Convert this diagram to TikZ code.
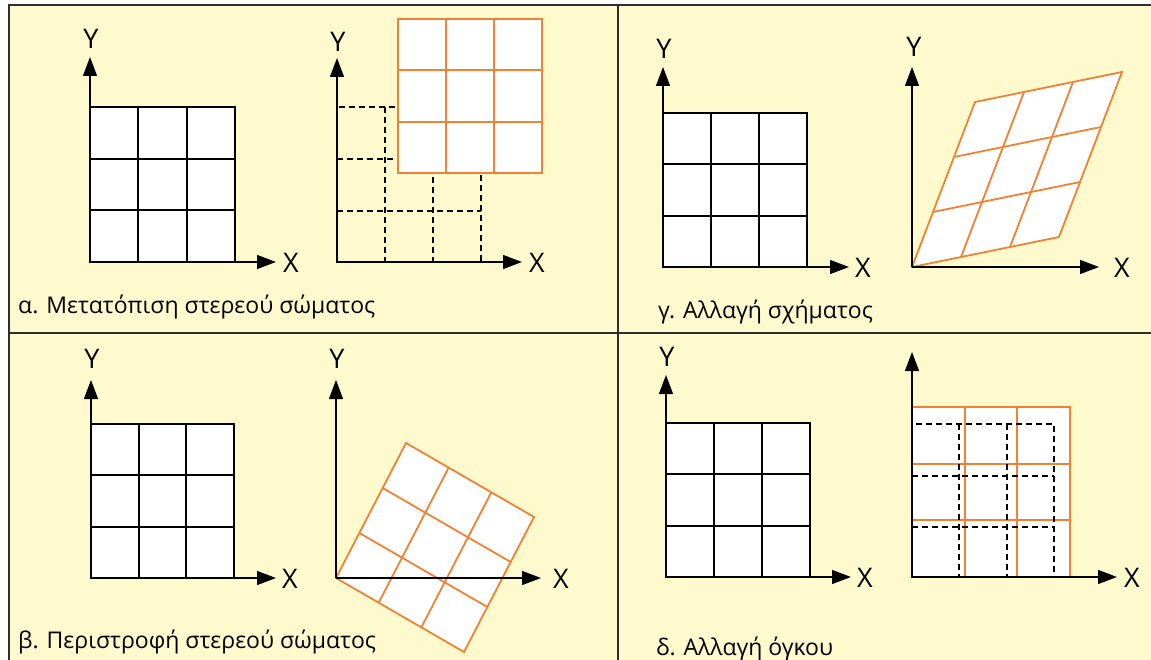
\documentclass[tikz,border=0pt]{standalone}
\usepackage{fontspec}
\setmainfont{Open Sans}
\usetikzlibrary{arrows.meta,calc}
\definecolor{bgy}{HTML}{FFFACD}
\definecolor{org}{HTML}{F08232}
\definecolor{frm}{HTML}{2E2E2E}
\newcommand\rectgrid[5]{% x0 y0 x1 y1 style
  \fill[white] (#1,#2) rectangle (#3,#4);
  \foreach \i in {1,2}{
    \draw[#5] ({#1+\i*(#3-#1)/3},#2) -- ({#1+\i*(#3-#1)/3},#4);
    \draw[#5] (#1,{#2+\i*(#4-#2)/3}) -- (#3,{#2+\i*(#4-#2)/3});
  }
  \draw[#5] (#1,#2) rectangle (#3,#4);
}
\newcommand\skewgrid[5]{% O A B C style  (O->A first edge, O->B second, C opposite)
  \fill[white] (#1) -- (#2) -- (#4) -- (#3) -- cycle;
  \foreach \i in {1,2}{
    \draw[#5] ($(#1)!\i/3!(#2)$) -- ($(#3)!\i/3!(#4)$);
    \draw[#5] ($(#1)!\i/3!(#3)$) -- ($(#2)!\i/3!(#4)$);
  }
  \draw[#5] (#1) -- (#2) -- (#4) -- (#3) -- cycle;
}
\begin{document}
\begin{tikzpicture}[x=1pt,y=-1pt,
  axis/.style={line width=1.3pt,-{Triangle[length=19pt,width=14pt]}},
  blk/.style={line width=1.8pt,black,line join=miter},
  orl/.style={line width=1.8pt,org,line join=miter},
  dsh/.style={line width=1.3pt,black,dash pattern=on 6pt off 4pt},
  axlab/.style={font=\fontsize{27}{30}\selectfont,inner sep=0pt},
  caption/.style={font=\fontsize{23}{27}\selectfont,anchor=base west,inner sep=0pt},
  frame/.style={line width=2.6pt,frm}]
\useasboundingbox (0,0) rectangle (1151,660);
\fill[white] (0,0) rectangle (1151,660);
\fill[bgy] (9,5) rectangle (1151,660);
% frame
\coordinate (fTL) at (9,5); \coordinate (fTR) at (1151,5); \coordinate (fBL) at (9,660);
\coordinate (vT) at (618,5); \coordinate (vB) at (618,660);
\coordinate (hL) at (9,333); \coordinate (hR) at (1151,333);
\draw[frame] (fBL) -- (fTL) -- (fTR);
\draw[frame] (vT) -- (vB);
\draw[frame] (hL) -- (hR);

% ================= panel alpha =================
\rectgrid{90}{107}{235}{262}{blk}
\coordinate (a1O) at (90,262); \coordinate (a1Y) at (90,57); \coordinate (a1X) at (276,262);
\draw[axis] (a1O) -- (a1Y); \draw[axis] (a1O) -- (a1X);
\node[axlab] (a1yl) at (91,39) {Y};
\node[axlab] (a1xl) at (291,263) {X};
% right
\draw[dsh] (337,107) rectangle (481,262);
\draw[dsh] (385,107) -- (385,262);
\draw[dsh] (433,107) -- (433,262);
\draw[dsh] (337,159) -- (481,159);
\draw[dsh] (337,211) -- (481,211);
\rectgrid{398}{19}{542}{173}{orl}
\coordinate (a2O) at (337,262); \coordinate (a2Y) at (337,58); \coordinate (a2X) at (522,262);
\draw[axis] (a2O) -- (a2Y); \draw[axis] (a2O) -- (a2X);
\node[axlab] (a2yl) at (338,42) {Y};
\node[axlab] (a2xl) at (537,263) {X};
\node[caption] (capa) at (18,313) {α. Μετατόπιση στερεού σώματος};

% ================= panel gamma =================
\rectgrid{663}{113}{807}{267}{blk}
\coordinate (g1O) at (663,267); \coordinate (g1Y) at (663,67); \coordinate (g1X) at (849,267);
\draw[axis] (g1O) -- (g1Y); \draw[axis] (g1O) -- (g1X);
\node[axlab] (g1yl) at (664,49) {Y};
\node[axlab] (g1xl) at (863,268) {X};
\coordinate (gO) at (912,267);
\coordinate (gA) at ($(gO)+(147,-30)$);
\coordinate (gB) at ($(gO)+(63,-165)$);
\coordinate (gC) at ($(gO)+(210,-195)$);
\skewgrid{gO}{gA}{gB}{gC}{orl}
\coordinate (g2Y) at (912,67); \coordinate (g2X) at (1099,267);
\draw[axis] (gO) -- (g2Y); \draw[axis] (gO) -- (g2X);
\node[axlab] (g2yl) at (914,47) {Y};
\node[axlab] (g2xl) at (1122,268) {X};
\node[caption] (capg) at (658,318) {γ. Αλλαγή σχήματος};

% ================= panel beta =================
\rectgrid{91}{424}{234}{578}{blk}
\coordinate (b1O) at (91,578); \coordinate (b1Y) at (91,380); \coordinate (b1X) at (276,578);
\draw[axis] (b1O) -- (b1Y); \draw[axis] (b1O) -- (b1X);
\node[axlab] (b1yl) at (92,359) {Y};
\node[axlab] (b1xl) at (290,579) {X};
\coordinate (bO) at (336,578);
\coordinate (bA) at ($(bO)+(128,74)$);
\coordinate (bB) at ($(bO)+(70,-135)$);
\coordinate (bC) at ($(bO)+(198,-61)$);
\skewgrid{bO}{bA}{bB}{bC}{orl}
\coordinate (b2Y) at (336,380); \coordinate (b2X) at (541,578);
\draw[axis] (bO) -- (b2Y); \draw[axis] (bO) -- (b2X);
\node[axlab] (b2yl) at (337,359) {Y};
\node[axlab] (b2xl) at (561,579) {X};
\node[caption] (capb) at (18,648) {β. Περιστροφή στερεού σώματος};

% ================= panel delta =================
\rectgrid{666}{423}{810}{577}{blk}
\coordinate (d1O) at (666,577); \coordinate (d1Y) at (666,375); \coordinate (d1X) at (851,577);
\draw[axis] (d1O) -- (d1Y); \draw[axis] (d1O) -- (d1X);
\node[axlab] (d1yl) at (667,357) {Y};
\node[axlab] (d1xl) at (865,578) {X};
\rectgrid{912}{407}{1070}{577}{orl}
\draw[dsh] (912,424) rectangle (1054,577);
\draw[dsh] (959,424) -- (959,577);
\draw[dsh] (1007,424) -- (1007,577);
\draw[dsh] (912,476) -- (1054,476);
\draw[dsh] (912,527) -- (1054,527);
\coordinate (d2O) at (912,577); \coordinate (d2Y) at (912,352); \coordinate (d2X) at (1117,577);
\draw[axis] (d2O) -- (d2Y); \draw[axis] (d2O) -- (d2X);
\node[axlab] (d2xl) at (1132,578) {X};
\node[caption] (capd) at (656,655) {δ. Αλλαγή όγκου};
\end{tikzpicture}
\end{document}
